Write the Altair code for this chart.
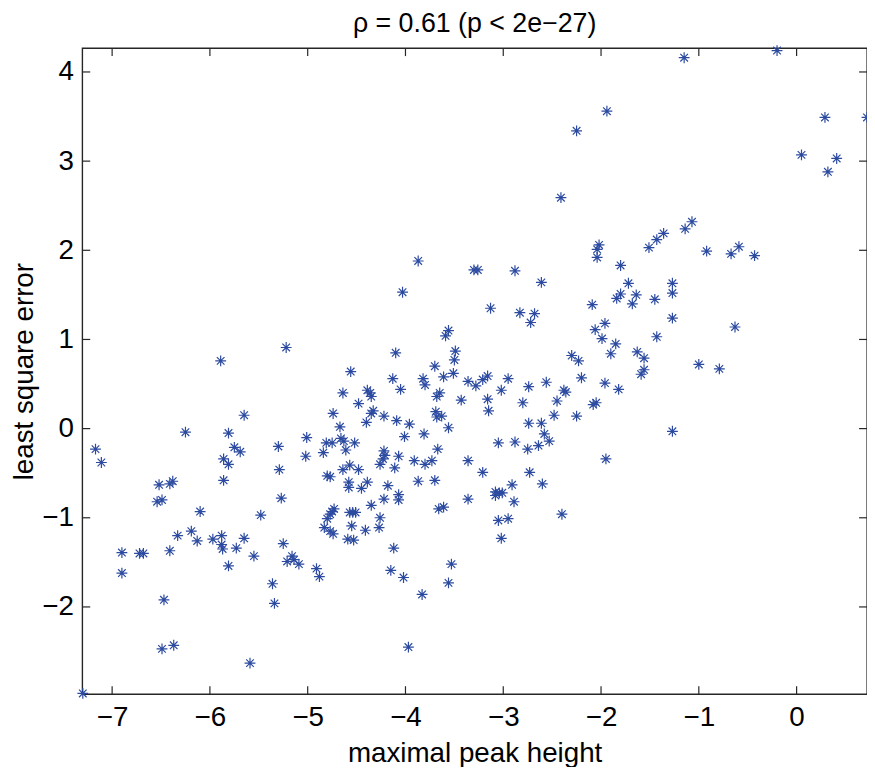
import altair as alt
import pandas as pd

# maximal peak height
xs = [-3.87,-1.94,-2.25,-2.41,-2.02,-2.04,-2.04,-1.51,-1.43,-1.36,-1.80,-1.15,-0.20,0.29,0.72,0.05,0.41,0.32,
      -1.07,-1.14,-0.92,-0.67,-0.59,-0.43,-5.89,-5.65,-6.25,-5.81,-7.17,-7.11,-5.75,-5.69,-5.86,-5.81,-5.30,-5.29,
      -3.30,-3.26,-4.03,-3.56,-3.59,-5.22,-4.10,-3.49,-3.50,-4.56,-3.70,-3.61,-3.51,-4.13,-3.82,-3.80,-4.05,-3.36,
      -3.28,-4.64,-4.39,-4.36,-4.35,-3.65,-3.68,-3.43,-4.48,-4.74,-4.33,-4.35,-4.22,-4.40,-4.09,-3.96,-3.69,-3.68,
      -3.63,-3.56,-4.67,-4.01,-3.81,-5.01,-4.81,-4.75,-4.66,-4.63,-4.52,-4.61,-4.84,-5.02,-4.22,-4.21,-4.23,-4.26,
      -4.07,-3.67,-3.91,-3.73,-3.80,-3.36,-4.57,-4.64,-4.48,-4.11,-4.80,-4.77,-4.58,-4.58,-4.39,-4.45,-4.18,-3.87,
      -3.70,-5.27,-4.73,-4.75,-4.77,-4.80,-4.83,-4.77,-4.74,-4.57,-4.54,-4.51,-4.55,-4.35,-4.22,-4.07,-4.07,-4.26,
      -4.27,-4.41,-4.59,-4.53,-3.66,-3.61,-3.36,-5.25,-5.16,-5.21,-5.14,-5.09,-4.91,-4.88,-4.12,-4.15,-4.02,-3.83,
      -3.53,-3.56,-3.97,-5.34,-5.36,-6.52,-6.41,-6.38,-5.86,-6.54,-6.49,-6.10,-5.48,-6.33,-6.19,-6.13,-5.97,-5.88,
      -5.88,-5.87,-5.73,-5.65,-5.55,-5.81,-6.90,-6.72,-6.68,-6.41,-6.90,-6.47,-6.49,-6.37,-5.59,-7.30,-2.88,-2.61,
      -3.13,-2.83,-2.68,-2.72,-2.09,-1.72,-1.80,-1.84,-1.64,-1.68,-1.45,-1.27,-1.27,-1.27,-1.96,-2.06,-1.99,-1.85,
      -1.90,-1.43,-1.63,-1.56,-1.56,-1.59,-2.30,-2.23,-2.20,-1.96,-1.82,-3.16,-3.21,-2.95,-3.02,-2.74,-2.56,-2.38,
      -2.36,-3.16,-3.15,-2.80,-2.45,-2.08,-2.05,-2.48,-2.25,-2.74,-2.61,-2.58,-2.53,-2.64,-2.88,-3.05,-2.75,-1.95,
      -1.27,-3.21,-2.73,-0.63,-1.00,-0.79,-3.08,-3.08,-3.04,-3.01,-2.91,-2.60,-2.89,-3.05,-2.95,-2.40,-3.02]

# least square error
ys = [1.88,3.56,3.34,2.59,2.06,2.01,1.92,2.03,2.12,2.19,1.83,4.16,4.24,3.49,3.49,3.07,3.03,2.88,
      2.32,2.24,1.99,1.96,2.04,1.94,0.76,0.15,-0.04,-0.05,-0.23,-0.38,-0.21,-0.26,-0.34,-0.40,-0.20,-0.46,
      1.78,1.78,1.53,1.10,1.04,0.91,0.85,0.87,0.77,0.64,0.70,0.58,0.62,0.56,0.56,0.49,0.44,0.53,
      0.48,0.40,0.43,0.40,0.36,0.40,0.36,0.32,0.28,0.17,0.20,0.17,0.14,0.07,0.09,0.05,0.19,0.13,
      0.14,0.01,0.02,-0.09,-0.06,-0.10,-0.16,-0.16,-0.11,-0.14,-0.16,-0.24,-0.27,-0.31,-0.25,-0.30,-0.34,-0.40,
      -0.31,-0.23,-0.36,-0.36,-0.40,-0.36,-0.41,-0.46,-0.46,-0.44,-0.53,-0.54,-0.60,-0.66,-0.60,-0.67,-0.64,-0.59,
      -0.58,-0.78,-0.90,-0.93,-0.96,-1.01,-1.11,-1.15,-1.18,-0.94,-0.94,-0.94,-1.09,-0.86,-0.79,-0.74,-0.80,-1.00,
      -1.11,-1.14,-1.24,-1.25,-0.90,-0.88,-0.79,-1.29,-1.43,-1.49,-1.47,-1.52,-1.57,-1.66,-1.34,-1.59,-1.67,-1.86,
      -1.52,-1.73,-2.45,-1.96,-1.74,-0.63,-0.62,-0.59,-0.58,-0.82,-0.80,-0.93,-0.97,-1.20,-1.15,-1.26,-1.24,-1.20,
      -1.30,-1.35,-1.34,-1.23,-1.43,-1.54,-1.39,-1.40,-1.40,-1.37,-1.62,-1.92,-2.47,-2.43,-2.63,-2.97,1.77,1.64,
      1.35,1.30,1.29,1.19,1.39,1.63,1.51,1.46,1.50,1.40,1.45,1.63,1.52,1.24,1.18,1.11,1.01,0.95,
      0.84,1.03,0.86,0.79,0.66,0.61,0.82,0.76,0.57,0.51,0.44,0.59,0.55,0.56,0.43,0.47,0.52,0.43,
      0.41,0.33,0.20,0.29,0.31,0.27,0.29,0.15,0.14,0.06,0.06,-0.06,-0.14,-0.19,-0.15,-0.16,-0.23,-0.34,
      -0.03,-0.49,-0.49,1.14,0.72,0.67,-0.71,-0.75,-0.72,-0.72,-0.63,-0.62,-0.82,-1.03,-1.01,-0.96,-1.23]

x_ticks = [-7, -6, -5, -4, -3, -2, -1, 0]
y_ticks = [-2, -1, 0, 1, 2, 3, 4]
x_domain = [-7.305, 0.72]
y_domain = [-2.978, 4.267]

title_text = "ρ = 0.61 (p < 2e\u221227)"
x_title = "maximal peak height"
y_title = "least square error"

W, H = 792, 652
FONT = "Liberation Sans"
FS = 28
TL = 8

df = pd.DataFrame({"x": xs, "y": ys})
xt = pd.DataFrame({"t": x_ticks})
yt = pd.DataFrame({"t": y_ticks})

xs_scale = alt.Scale(domain=x_domain, nice=False, zero=False)
ys_scale = alt.Scale(domain=y_domain, nice=False, zero=False)

star = "M-1,0L1,0M0,-1L0,1M-0.7,-0.7L0.7,0.7M-0.7,0.7L0.7,-0.7"
minus_expr = "replace(format(datum.value, 'd'), '-', '\u2212')"

points = alt.Chart(df).mark_point(shape=star, filled=False, size=120, strokeWidth=1.2,
                                  color="#2c4ba0", opacity=1).encode(
    x=alt.X("x:Q", scale=xs_scale,
            axis=alt.Axis(values=x_ticks, title=x_title, grid=False, ticks=False, domain=False,
                          labelPadding=10, titleY=60, titleBaseline="middle",
                          labelExpr=minus_expr)),
    y=alt.Y("y:Q", scale=ys_scale,
            axis=alt.Axis(values=y_ticks, title=y_title, grid=False, ticks=False, domain=False,
                          labelPadding=9, titleX=-58, titleBaseline="middle", titleAlign="center",
                          labelExpr=minus_expr)),
)

tick_color = "#262626"
bot = alt.Chart(xt).mark_rule(color=tick_color, strokeWidth=1.2).encode(
    x=alt.X("t:Q", scale=xs_scale), y=alt.value(H), y2=alt.value(H - TL))
top = alt.Chart(xt).mark_rule(color=tick_color, strokeWidth=1.2).encode(
    x=alt.X("t:Q", scale=xs_scale), y=alt.value(0), y2=alt.value(TL))
left = alt.Chart(yt).mark_rule(color=tick_color, strokeWidth=1.2).encode(
    y=alt.Y("t:Q", scale=ys_scale), x=alt.value(0), x2=alt.value(TL))
right = alt.Chart(yt).mark_rule(color=tick_color, strokeWidth=1.2).encode(
    y=alt.Y("t:Q", scale=ys_scale), x=alt.value(W), x2=alt.value(W - TL))

chart = alt.layer(points, bot, top, left, right).properties(
    width=W, height=H,
    title=alt.TitleParams(title_text, font=FONT, fontSize=27, fontWeight="normal", color="black", offset=5),
    autosize=alt.AutoSizeParams(type="none"),
    padding={"left": 75, "top": 37, "right": 0, "bottom": 70},
).configure_view(stroke=tick_color, strokeWidth=1.4).configure_axis(
    labelFont=FONT, labelFontSize=FS, labelColor="black",
    titleFont=FONT, titleFontSize=FS, titleColor="black", titleFontWeight="normal",
)

chart.save("out.html", embed_options={"renderer": "svg", "actions": False})
